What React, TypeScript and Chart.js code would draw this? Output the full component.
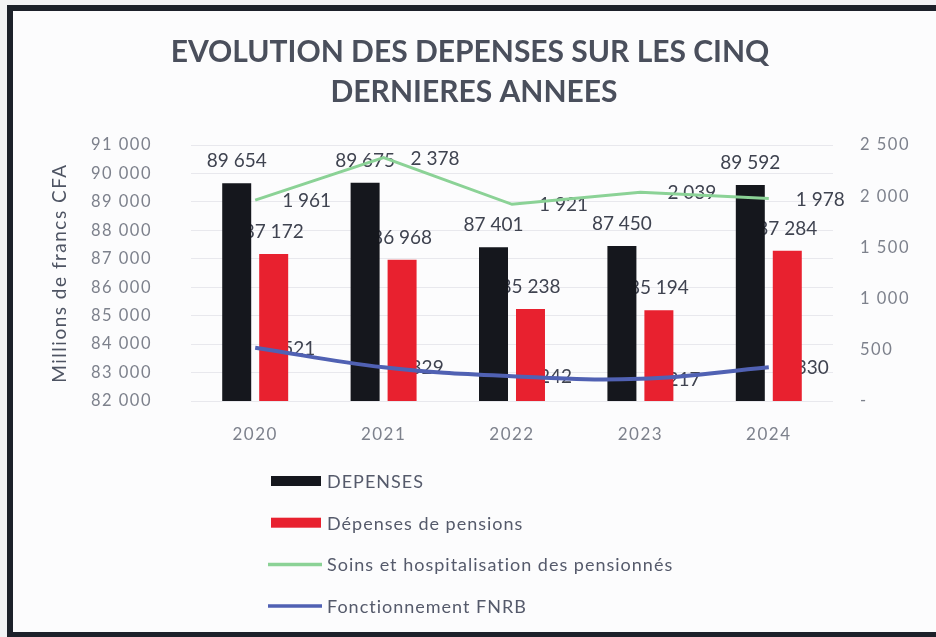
import React, { useEffect, useRef } from 'react';
import { Chart, registerables } from 'chart.js';

Chart.register(...registerables);

const W = 936;
const H = 637;

const years = ['2020', '2021', '2022', '2023', '2024'];
const depenses = [89654, 89675, 87401, 87450, 89592];
const pensions = [87172, 86968, 85238, 85194, 87284];
const soins = [1961, 2378, 1921, 2039, 1978];
const fnrb = [521, 329, 242, 217, 330];
const seriesNames = [
  'DEPENSES',
  'Dépenses de pensions',
  'Soins et hospitalisation des pensionnés',
  'Fonctionnement FNRB',
];
const titleLines = ['EVOLUTION DES DEPENSES SUR LES CINQ', 'DERNIERES ANNEES'];
const yLeftTitle = 'Millions de francs CFA';

const colBlack = '#15171d';
const colRed = '#e8212f';
const colGreen = '#8bd296';
const colBlue = '#5061b3';

const fmt = (v: number) => String(Math.round(v)).replace(/\B(?=(\d{3})+(?!\d))/g, ' ');

const decorPlugin = {
  id: 'decor',
  beforeDraw(chart: any) {
    const ctx = chart.ctx;
    ctx.save();
    ctx.fillStyle = '#f3f3f5';
    ctx.fillRect(0, 0, W, H);
    ctx.fillStyle = '#fcfcfd';
    ctx.fillRect(7, 5, W - 7, H - 5);
    ctx.restore();
    (ctx as any).letterSpacing = '1.5px';
  },
  beforeDatasetsDraw(chart: any) {
    const ctx = chart.ctx;
    ctx.save();
    (ctx as any).letterSpacing = '0px';
    ctx.font = '19px Lato';
    ctx.fillStyle = '#3f4350';
    ctx.textBaseline = 'middle';
    // bar labels: above bar (outside end)
    [0, 1].forEach((di) => {
      const meta = chart.getDatasetMeta(di);
      const data = chart.data.datasets[di].data as number[];
      meta.data.forEach((el: any, j: number) => {
        ctx.textAlign = 'center';
        ctx.fillText(fmt(data[j]), el.x, el.y - 22);
      });
    });
    // line labels: right of point
    [2, 3].forEach((di) => {
      const meta = chart.getDatasetMeta(di);
      const data = chart.data.datasets[di].data as number[];
      meta.data.forEach((el: any, j: number) => {
        ctx.textAlign = 'left';
        ctx.fillText(fmt(data[j]), el.x + 27, el.y + 1);
      });
    });
    ctx.restore();
  },
  afterDraw(chart: any) {
    const ctx = chart.ctx;
    ctx.save();
    (ctx as any).letterSpacing = '0px';
    // frame
    ctx.fillStyle = '#1d212a';
    ctx.fillRect(7, 5, W - 7, 6);
    ctx.fillRect(7, 5, 6, H - 5);
    ctx.fillRect(7, H - 5, W - 7, 5);
    // title
    ctx.fillStyle = '#4a4f5c';
    ctx.font = 'bold 30px Lato';
    ctx.textAlign = 'center';
    ctx.textBaseline = 'alphabetic';
    ctx.fillText(titleLines[0], 470, 62);
    ctx.fillText(titleLines[1], 474, 102);
    // legend
    const ds = chart.data.datasets;
    ctx.font = '18px Lato';
    (ctx as any).letterSpacing = '1px';
    ds.forEach((d: any, i: number) => {
      const y = 481 + i * 41.7;
      if (d.type === 'bar') {
        ctx.fillStyle = d.backgroundColor;
        ctx.fillRect(271, y - 5, 50, 10);
      } else {
        ctx.strokeStyle = d.borderColor;
        ctx.lineWidth = 3.5;
        ctx.beginPath();
        ctx.moveTo(268, y);
        ctx.lineTo(322, y);
        ctx.stroke();
      }
      ctx.fillStyle = '#555a6b';
      ctx.textAlign = 'left';
      ctx.textBaseline = 'middle';
      ctx.fillText(d.label, 327, y + 1);
    });
    ctx.restore();
  },
};

export default function App() {
  const ref = useRef<HTMLCanvasElement | null>(null);

  useEffect(() => {
    document.body.style.margin = '0';
    const canvas = ref.current;
    if (!canvas) return;
    const tickColor = '#7d818c';
    const chart = new Chart(canvas, {
      type: 'bar',
      data: {
        labels: years,
        datasets: [
          {
            type: 'bar',
            label: seriesNames[0],
            data: depenses,
            backgroundColor: colBlack,
            yAxisID: 'y',
            order: 2,
            barPercentage: 0.784,
            categoryPercentage: 0.576,
          },
          {
            type: 'bar',
            label: seriesNames[1],
            data: pensions,
            backgroundColor: colRed,
            yAxisID: 'y',
            order: 2,
            barPercentage: 0.784,
            categoryPercentage: 0.576,
          },
          {
            type: 'line',
            label: seriesNames[2],
            data: soins,
            borderColor: colGreen,
            backgroundColor: colGreen,
            borderWidth: 3,
            pointRadius: 0,
            yAxisID: 'y1',
            order: 1,
            tension: 0,
          },
          {
            type: 'line',
            label: seriesNames[3],
            data: fnrb,
            borderColor: colBlue,
            backgroundColor: colBlue,
            borderWidth: 4,
            pointRadius: 0,
            yAxisID: 'y1',
            order: 1,
            tension: 0.4,
          },
        ] as any,
      },
      options: {
        responsive: false,
        animation: false,
        devicePixelRatio: 1,
        layout: { padding: { left: 48, right: 0, top: 145, bottom: 176 } },
        plugins: {
          legend: { display: false },
          title: { display: false },
          tooltip: { enabled: false },
        },
        scales: {
          x: {
            grid: { display: false },
            border: { display: false },
            ticks: {
              color: tickColor,
              font: { family: 'Lato', size: 17 },
              padding: 15,
            },
            afterFit: (s: any) => {
              s.height = 60;
            },
          },
          y: {
            position: 'left',
            min: 82000,
            max: 91000,
            ticks: {
              stepSize: 1000,
              callback: (v: any) => fmt(Number(v)),
              color: tickColor,
              font: { family: 'Lato', size: 16.5 },
              padding: 39,
            },
            grid: { color: '#e8e8ed', drawTicks: false, lineWidth: 1 },
            border: { display: false },
            title: {
              display: true,
              text: yLeftTitle,
              color: '#4e5463',
              font: { family: 'Lato', size: 19 },
              padding: { top: 0, bottom: 0 },
            },
            afterFit: (s: any) => {
              s.width = 143;
            },
          },
          y1: {
            position: 'right',
            min: 0,
            max: 2500,
            ticks: {
              stepSize: 500,
              callback: (v: any) => (Number(v) === 0 ? '-' : fmt(Number(v))),
              color: tickColor,
              font: { family: 'Lato', size: 16.5 },
              padding: 27,
            },
            grid: { display: false, drawTicks: false },
            border: { display: false },
            afterFit: (s: any) => {
              s.width = 103;
            },
          },
        },
      } as any,
      plugins: [decorPlugin],
    });
    return () => chart.destroy();
  }, []);

  return (
    <div style={{ width: W, height: H, position: 'relative', overflow: 'hidden' }}>
      <canvas ref={ref} width={W} height={H} style={{ display: 'block' }} />
    </div>
  );
}
